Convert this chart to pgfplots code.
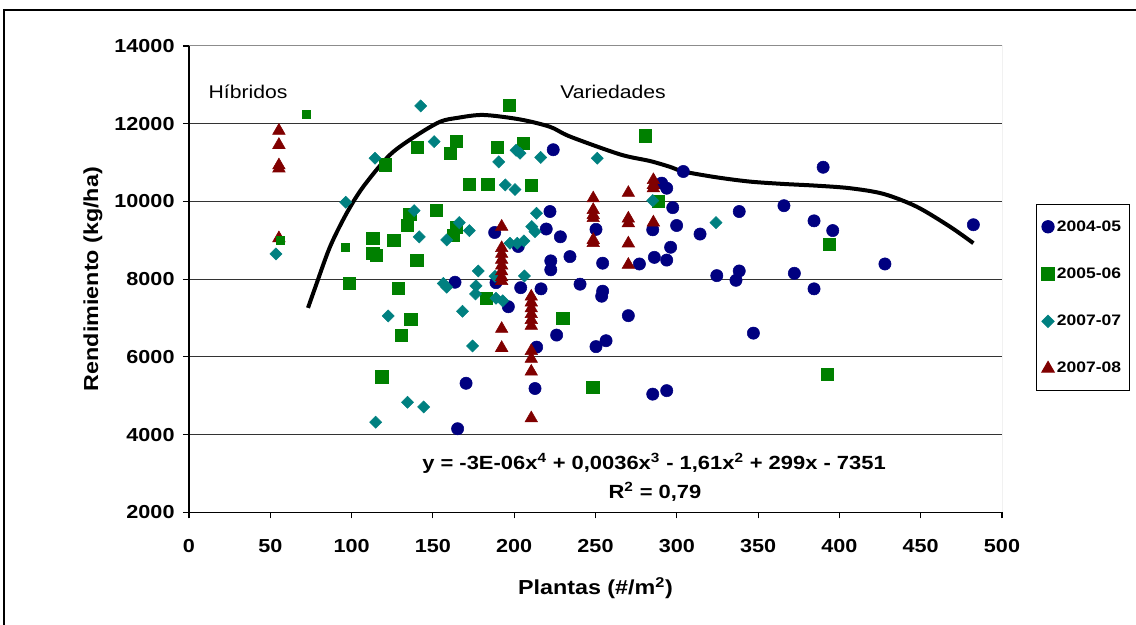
\documentclass[border=0pt]{standalone}
\usepackage{fontspec}
\setmainfont{Liberation Sans}[FakeStretch=1.15]
\usepackage{pgfplots}
\pgfplotsset{compat=1.18}
\definecolor{cA}{HTML}{000080}
\definecolor{cB}{HTML}{008000}
\definecolor{cC}{HTML}{008080}
\definecolor{cD}{HTML}{800000}
\begin{document}
\begin{tikzpicture}
\useasboundingbox (-141.75pt,-84.5pt) rectangle (710.25pt,384.2pt);
\draw[line width=1.5pt] (-138.75pt,-120pt) -- (-138.75pt,376.7pt) -- (760pt,376.7pt);
\begin{axis}[
 scale only axis, width=609.75pt, height=349.7pt,
 xmin=0, xmax=500, ymin=2000, ymax=14000,
 xtick={0,50,...,500}, ytick={2000,4000,...,14000},
 scaled y ticks=false, scaled x ticks=false,
 axis x line*=bottom, axis y line*=left,
 axis line style={black, line width=0.8pt},
 tick align=outside, major tick length=4.5pt,
 tick style={black, line width=0.8pt},
 ymajorgrids, grid style={black!80, line width=0.75pt},
 /pgf/number format/assume math mode=true,
 /pgf/number format/1000 sep={},
 tick label style={font=\bfseries\fontsize{14.1}{16}\selectfont},
 xticklabel style={yshift=-12pt},
 yticklabel style={xshift=-2.8pt},
 xlabel={Plantas (\#/m\textsuperscript{2})},
 ylabel={Rendimiento (kg/ha)},
 label style={font=\bfseries\fontsize{15.2}{18}\selectfont},
 xlabel style={at={(axis description cs:0.5,-0.1623)}, anchor=center},
 ylabel style={at={(axis description cs:-0.1181,0.5)}, anchor=center},
 legend style={at={(axis description cs:1.0418,0.6612)}, anchor=north west,
   draw=black, line width=0.75pt, font=\bfseries\fontsize{11.4}{13}\selectfont,
   row sep=22pt, inner xsep=4pt, inner ysep=10pt, cells={anchor=west}},
 legend image code/.code={\draw[#1] plot coordinates {(5pt,0pt)};},
]
\addplot[only marks, mark=*, mark size=4.6pt, color=cA] coordinates {
(224,11330) (304,10770) (290.7,10470) (293.8,10340) (390,10880) (297.5,9840) (299.9,9380) (314.3,9160) (338.4,9740) (365.9,9890) (384.4,9500) (395.9,9250) (482.4,9400) (285.2,9270) (296.2,8820) (286.2,8560) (293.8,8490) (277,8390) (324.6,8090) (338.4,8210) (336.4,7970) (372.3,8150) (428,8390) (384.4,7750) (347.1,6610) (285.2,5040) (293.8,5130) (222,9740) (219.7,9290) (228.4,9090) (202.5,8840) (188,9200) (234.3,8580) (222.5,8470) (222.5,8240) (254.4,8410) (250.3,9280) (163.6,7920) (188.8,7910) (204,7780) (216.5,7750) (240.5,7870) (254.4,7690) (253.8,7560) (196.4,7290) (226.1,6560) (270.2,7060) (256.5,6415) (250.3,6263) (213.8,6250) (170.4,5320) (212.8,5185) (165.2,4150)
};
\addlegendentry{2004-05}
\addplot[only marks, mark=square*, mark size=4.6pt, color=cB] coordinates {
(197,12470) (280.4,11690) (120.5,10940) (140.5,11395) (164.2,11540) (160.5,11240) (189.6,11390) (205.6,11490) (172.4,10435) (183.7,10435) (210.3,10420) (152.2,9770) (135.7,9670) (134.4,9380) (125.9,9009) (113,9053) (113,8667) (115,8605) (140,8494) (164.2,9336) (162.6,9138) (98.4,7900) (128.5,7770) (136.4,6968) (130.4,6550) (118.5,5490) (182.6,7508) (229.8,6994) (248.3,5208) (288.6,9995) (393.6,8906) (392.4,5552)
};
\addlegendentry{2005-06}
\addplot[only marks, mark=square*, mark size=3.2pt, mark options={rotate=45}, color=cC] coordinates {
(142.5,12458) (150.8,11539) (114.4,11112) (96.4,9979) (138.5,9763) (141.6,9087) (53.5,8649) (190.5,11017) (201.2,11317) (203.6,11240) (216.3,11133) (251.1,11112) (194.5,10425) (200.5,10305) (166.2,9454) (158.5,9009) (172.4,9249) (197.4,8924) (201.9,8924) (206,8983) (213.7,9696) (210.8,9351) (212.8,9223) (177.9,8210) (188.2,8073) (206.3,8082) (156.4,7890) (158.5,7792) (176.5,7826) (176.2,7619) (188.8,7508) (192.9,7442) (168.2,7172) (174.4,6281) (122.5,7053) (134.4,4831) (144.3,4710) (114.8,4317) (285.2,10020) (324.1,9454)
};
\addlegendentry{2007-07}
\addplot[only marks, mark=triangle*, mark size=5.4pt, color=cD] coordinates {
(55.3,11820) (55.3,11455) (55.3,10930) (55.3,10850) (55.3,9053)
(192.3,9350) (192.3,8800) (192.3,8650) (192.3,8500) (192.3,8350) (192.3,8200) (192.3,8050) (192.3,7950) (192.3,6720) (192.3,6230)
(210.5,7550) (210.5,7400) (210.5,7250) (210.5,7100) (210.5,6950) (210.5,6800) (210.5,6150) (210.5,5950) (210.5,5620) (210.5,4420)
(248.6,10080) (248.6,9780) (248.6,9650) (248.6,9570) (248.6,9010) (248.6,8930)
(270.2,10220) (270.2,9560) (270.2,9440) (270.2,8920) (270.2,8370)
(285.6,10550) (285.6,10425) (285.6,10340) (285.6,9460)
};
\addlegendentry{2007-08}
\addplot[only marks, mark=square*, mark size=3pt, color=cB, forget plot] coordinates {
(72.4,12252) (96.4,8811) (56,9000)
};
\addplot[smooth, line width=3pt, black, forget plot] coordinates {
(73.2,7260) (77.5,7770) (86.7,8830) (97,9700) (107.2,10380) (123.6,11200) (140,11700) (154.4,12050) (165,12150) (181,12225) (203.6,12110) (222,11920) (234.3,11670) (265.1,11210) (283.5,11040) (295.8,10890) (304,10770) (324.5,10620) (345,10510) (365.5,10450) (386,10405) (406.5,10340) (427,10195) (447.5,9865) (468,9350) (482.4,8925)
};
\draw[black!45, line width=0.75pt] (rel axis cs:0,1) -- (rel axis cs:1,1) -- (rel axis cs:1,0);
\node[font=\fontsize{13.8}{16}\selectfont] at (axis cs:36.3,12819) {Híbridos};
\node[font=\fontsize{13.8}{16}\selectfont] at (axis cs:260.8,12819) {Variedades};
\node[font=\bfseries\fontsize{14.3}{17}\selectfont] at (axis cs:286,3269) {y = -3E-06x\textsuperscript{4} + 0,0036x\textsuperscript{3} - 1,61x\textsuperscript{2} + 299x - 7351};
\node[font=\bfseries\fontsize{14.3}{17}\selectfont] at (axis cs:286.6,2522) {R\textsuperscript{2} = 0,79};
\end{axis}
\end{tikzpicture}
\end{document}
